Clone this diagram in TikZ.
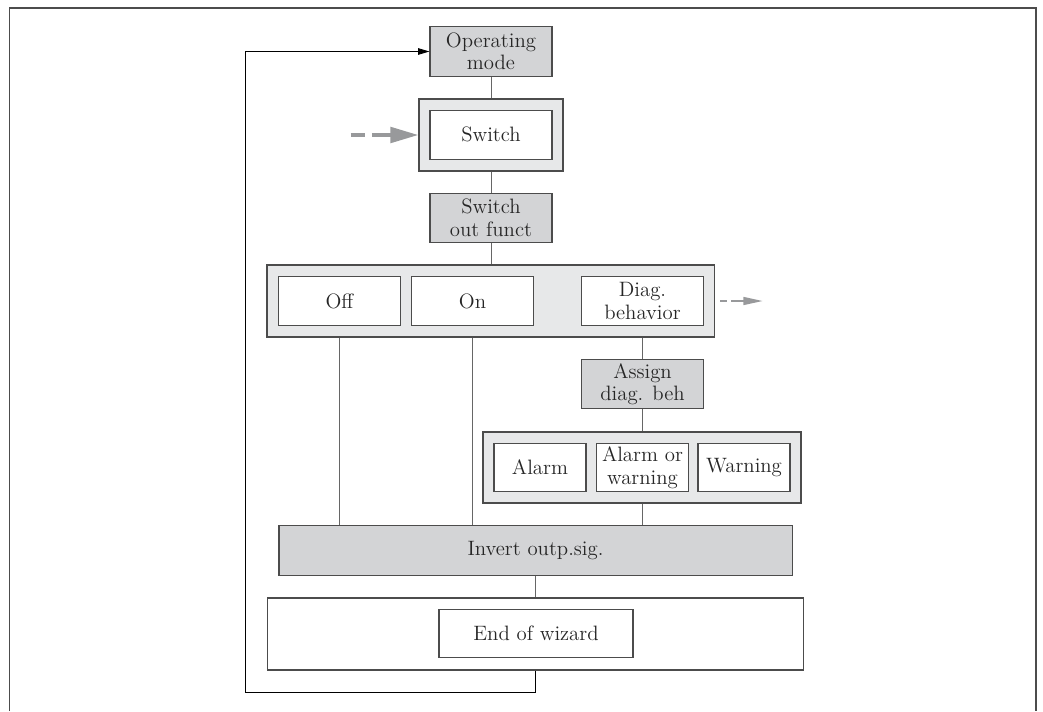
\documentclass[tikz,border=0pt]{standalone}
\usepackage{tikz}
\usetikzlibrary{arrows.meta}

\definecolor{hdrgray}{RGB}{211,212,214}
\definecolor{pnlgray}{RGB}{231,232,233}
\definecolor{arrgray}{RGB}{152,153,155}
\newcommand{\boxfont}{\fontsize{14.8}{16}\selectfont}

\begin{document}
\begin{tikzpicture}[x=0.025cm,y=-0.025cm,
  hdr/.style={draw=black!70,fill=hdrgray,line width=0.8pt,text=black!85,
    minimum width=3.05cm,minimum height=1.23cm,inner sep=0pt,align=center,font=\boxfont},
  opt/.style={hdr,fill=white,minimum height=1.22cm},
  panel/.style={draw=black!70,fill=pnlgray,line width=0.8pt,inner sep=0pt},
  link/.style={draw=black!60,line width=0.6pt},
  backline/.style={draw=black,line width=0.6pt,-{Triangle[length=8pt,width=4.6pt]}},
  dashin/.style={draw=arrgray,line width=2.8pt,dash pattern=on 10pt off 5pt on 20pt,
    -{Triangle[length=20pt,width=11pt]}},
  dashout/.style={draw=arrgray,line width=1.6pt,dash pattern=on 5pt off 3pt on 12pt,
    -{Triangle[length=14pt,width=5.5pt]}}]
\useasboundingbox (0,0) rectangle (1043,711);
% frame
\draw[draw=black!70,line width=1.2pt] (9.5,711) -- (9.5,8) -- (1035.7,8) -- (1035.7,711);

% top part
\node[hdr] (opmode) at (491,51.5) {Operating\\mode};
\node[panel,minimum width=3.6cm,minimum height=1.8cm] (swpanel) at (491,135) {};
\node[opt] (switch) at (491,134.75) {Switch};
\node[hdr] (sof) at (491,218) {Switch\\out funct};

% switch output function
\node[panel,minimum width=11.175cm,minimum height=1.8cm] (outpanel) at (490.5,301) {};
\node[opt] (off) at (339.5,301) {Off};
\node[opt] (on) at (472.5,301) {On};
\node[opt] (diag) at (642.5,301) {Diag.\\behavior};

% diagnostic behavior
\node[hdr] (assign) at (642.5,384) {Assign\\diag. beh};
\node[panel,minimum width=7.95cm,minimum height=1.775cm] (alpanel) at (642,467.5) {};
\node[opt,minimum width=2.3cm] (alarm) at (540,467.5) {Alarm};
\node[opt,minimum width=2.3cm] (alwarn) at (642.5,467.5) {Alarm or\\warning};
\node[opt,minimum width=2.3cm] (warn) at (744,467.5) {Warning};

% end
\node[hdr,minimum width=12.825cm] (invert) at (535.5,550.5) {Invert outp.sig.};
\node[panel,fill=white,minimum width=13.4cm,minimum height=1.8cm] (endpanel) at (535.5,634) {};
\node[opt,minimum width=4.85cm] (endwiz) at (536,633.5) {End of wizard};

% connectors
\draw[link] (opmode) -- (swpanel);
\draw[link] (swpanel) -- (sof);
\draw[link] (sof.south) -- (sof.south |- outpanel.north);
\draw[link] (off.south |- outpanel.south) -- (off.south |- invert.north);
\draw[link] (on.south |- outpanel.south) -- (on.south |- invert.north);
\draw[link] (diag.south |- outpanel.south) -- (assign.north);
\draw[link] (assign.south) -- (assign.south |- alpanel.north);
\draw[link] (alwarn.south |- alpanel.south) -- (alwarn.south |- invert.north);
\draw[link] (invert.south) -- (invert.south |- endpanel.north);

% back to start
\coordinate (loopcorner) at (245,692);
\draw[backline] (endpanel.south) -- (endpanel.south |- loopcorner) -- (loopcorner) |- (opmode.west);

% dashed arrows
\coordinate (swin) at (350.7,135);
\coordinate (diagout) at (763,301);
\draw[dashin] (swin) -- (swpanel.west);
\draw[dashout] ([xshift=0.4cm]diag.east) -- (diagout);
\end{tikzpicture}
\end{document}
